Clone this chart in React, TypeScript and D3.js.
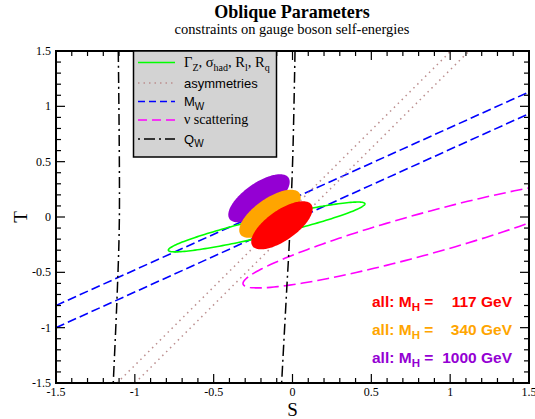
import React from "react";
import * as d3 from "d3";

const W = 535;
const H = 419;
const PLOT = { left: 56, right: 529, top: 51, bottom: 383 };

// axis ticks
const majorTicks = [-1.5, -1, -0.5, 0, 0.5, 1, 1.5];
const tickLabels = ["-1.5", "-1", "-0.5", "0", "0.5", "1", "1.5"];
const minorTicks = [-1.4, -1.3, -1.2, -1.1, -0.9, -0.8, -0.7, -0.6, -0.4, -0.3, -0.2, -0.1, 0.1, 0.2, 0.3, 0.4, 0.6, 0.7, 0.8, 0.9, 1.1, 1.2, 1.3, 1.4];

// M_W bands (blue dashed)
const mwS = [-1.5, 1.5];
const mwUpperT = [-0.8, 1.13];
const mwLowerT = [-1.0, 0.934];

// asymmetries (dotted)
const asymT = [-1.5, 1.5];
const asymLeftS = [-1.113, 1.005];
const asymRightS = [-0.999, 1.12];

// Q_W (dash-dot)
const qwLeftS = [-1.105, -1.098, -1.111, -1.137];
const qwLeftT = [1.5, 0, -0.66, -1.5];
const qwRightS = [0.016, 0.001, -0.02, -0.037, -0.069];
const qwRightT = [1.5, 0.512, -0.226, -0.663, -1.5];

// Gamma_Z etc. (green ellipse): center, conjugate half-axes
const zCenter = [-0.164, -0.09];
const zU = [0.6233, 0.2108];
const zV = [-0.0132, 0.0791];

// nu scattering (magenta dashed ellipse)
const nuCenter = [0.834, -0.1545];
const nuU = [1.148, 0.446];
const nuV = [0, 0.194];

// combined fits for three Higgs masses
const fitLabels = ["1000", "340", "117"];
const fitColors = ["#9400d3", "#ffa500", "#ff0000"];
const fitCenterS = [-0.2125, -0.143, -0.067];
const fitCenterT = [0.169, 0.029, -0.075];
const fitU = [0.187, 0.187];
const fitV = [-0.0546, 0.111];

const x = d3.scaleLinear().domain([-1.5, 1.5]).range([PLOT.left, PLOT.right]);
const y = d3.scaleLinear().domain([-1.5, 1.5]).range([PLOT.bottom, PLOT.top]);

const line = d3
  .line<[number, number]>()
  .x((d) => x(d[0]))
  .y((d) => y(d[1]));
const smooth = d3
  .line<[number, number]>()
  .x((d) => x(d[0]))
  .y((d) => y(d[1]))
  .curve(d3.curveCatmullRom);
const closed = d3
  .line<[number, number]>()
  .x((d) => x(d[0]))
  .y((d) => y(d[1]))
  .curve(d3.curveLinearClosed);

function ellipse(c: number[], u: number[], v: number[]) {
  const pts: [number, number][] = d3.range(0, 360, 2).map((deg) => {
    const t = (deg * Math.PI) / 180;
    return [c[0] + u[0] * Math.cos(t) + v[0] * Math.sin(t), c[1] + u[1] * Math.cos(t) + v[1] * Math.sin(t)];
  });
  return closed(pts) as string;
}

const zip = (a: number[], b: number[]) => a.map((v, i) => [v, b[i]] as [number, number]);

const serif = "'Liberation Serif', 'Times New Roman', serif";
const sans = "'Liberation Sans', Arial, sans-serif";

export default function App() {
  const tickLines: React.ReactNode[] = [];
  const all = [...majorTicks.map((v) => ({ v, major: true })), ...minorTicks.map((v) => ({ v, major: false }))];
  all.forEach(({ v, major }, i) => {
    const len = major ? 9 : 5;
    const xv = x(v);
    const yv = y(v);
    tickLines.push(<line key={"b" + i} x1={xv} x2={xv} y1={PLOT.bottom} y2={PLOT.bottom - len} />);
    tickLines.push(<line key={"t" + i} x1={xv} x2={xv} y1={PLOT.top} y2={PLOT.top + len} />);
    tickLines.push(<line key={"l" + i} x1={PLOT.left} x2={PLOT.left + len} y1={yv} y2={yv} />);
    tickLines.push(<line key={"r" + i} x1={PLOT.right} x2={PLOT.right - len} y1={yv} y2={yv} />);
  });

  const legX1 = 138;
  const legX2 = 175;
  const legText = 184;
  const legRows = [62.5, 83, 101.5, 120, 139];

  return (
    <svg
      width={W}
      height={H}
      style={{ position: "absolute", left: 0, top: 0, background: "#fff" }}
      xmlns="http://www.w3.org/2000/svg"
    >
      <defs>
        <clipPath id="plotClip">
          <rect x={PLOT.left} y={PLOT.top} width={PLOT.right - PLOT.left} height={PLOT.bottom - PLOT.top} />
        </clipPath>
      </defs>
      <rect x={0} y={0} width={W} height={H} fill="#fff" />

      {/* titles */}
      <text x={292} y={18} textAnchor="middle" fontFamily={serif} fontWeight="bold" fontSize={18}>
        Oblique Parameters
      </text>
      <text x={292} y={34} textAnchor="middle" fontFamily={serif} fontSize={14.5}>
        constraints on gauge boson self-energies
      </text>

      <g clipPath="url(#plotClip)" fill="none">
        {/* M_W */}
        <path d={line(zip(mwS, mwUpperT)) as string} stroke="#0000ff" strokeWidth={1.6} strokeDasharray="9,4" />
        <path d={line(zip(mwS, mwLowerT)) as string} stroke="#0000ff" strokeWidth={1.6} strokeDasharray="9,4" />
        {/* asymmetries */}
        <path d={line(zip(asymLeftS, asymT)) as string} stroke="#bc8f8f" strokeWidth={1.5} strokeDasharray="1.5,4" />
        <path d={line(zip(asymRightS, asymT)) as string} stroke="#bc8f8f" strokeWidth={1.5} strokeDasharray="1.5,4" />
        {/* nu scattering */}
        <path d={ellipse(nuCenter, nuU, nuV)} stroke="#ff00ff" strokeWidth={1.6} strokeDasharray="12,5" />
        {/* Q_W */}
        <path d={smooth(zip(qwLeftS, qwLeftT)) as string} stroke="#000" strokeWidth={1.5} strokeDasharray="11,4,2,4" />
        <path d={smooth(zip(qwRightS, qwRightT)) as string} stroke="#000" strokeWidth={1.5} strokeDasharray="11,4,2,4" />
        {/* Z pole */}
        <path d={ellipse(zCenter, zU, zV)} stroke="#00ff00" strokeWidth={1.6} />
        {/* fits */}
        {fitLabels.map((lab, i) => (
          <path
            key={lab}
            d={ellipse([fitCenterS[i], fitCenterT[i]], fitU, fitV)}
            fill={fitColors[i]}
            stroke="none"
          />
        ))}
      </g>

      {/* frame and ticks */}
      <g stroke="#000" strokeWidth={1.2}>{tickLines}</g>
      <rect
        x={PLOT.left}
        y={PLOT.top}
        width={PLOT.right - PLOT.left}
        height={PLOT.bottom - PLOT.top}
        fill="none"
        stroke="#000"
        strokeWidth={2}
      />

      {/* tick labels */}
      {majorTicks.map((v, i) => (
        <text key={"xl" + i} x={x(v)} y={396} textAnchor="middle" fontFamily={serif} fontSize={12}>
          {tickLabels[i]}
        </text>
      ))}
      {majorTicks.map((v, i) => (
        <text key={"yl" + i} x={51} y={y(v) + 4} textAnchor="end" fontFamily={serif} fontSize={12}>
          {tickLabels[i]}
        </text>
      ))}
      <text x={292.5} y={415.5} textAnchor="middle" fontFamily={serif} fontSize={19}>
        S
      </text>
      <text
        x={0}
        y={0}
        transform={`translate(27,${y(0)}) rotate(-90)`}
        textAnchor="middle"
        fontFamily={serif}
        fontSize={19}
      >
        T
      </text>

      {/* legend */}
      <rect x={133.5} y={PLOT.top} width={143} height={106} fill="#d3d3d3" stroke="#000" strokeWidth={1.5} />
      <g fill="none">
        <line x1={legX1} x2={legX2} y1={legRows[0]} y2={legRows[0]} stroke="#00ff00" strokeWidth={1.6} />
        <line x1={legX1} x2={legX2} y1={legRows[1]} y2={legRows[1]} stroke="#bc8f8f" strokeWidth={1.5} strokeDasharray="1.5,4" />
        <line x1={legX1} x2={legX2} y1={legRows[2]} y2={legRows[2]} stroke="#0000ff" strokeWidth={1.6} strokeDasharray="7,4" />
        <line x1={legX1} x2={legX2} y1={legRows[3]} y2={legRows[3]} stroke="#ff00ff" strokeWidth={1.6} strokeDasharray="9,5" />
        <line x1={legX1} x2={legX2} y1={legRows[4]} y2={legRows[4]} stroke="#000" strokeWidth={1.5} strokeDasharray="2,4,11,4" />
      </g>
      <text x={legText} y={legRows[0] + 4.5} fontFamily={serif} fontSize={14.5}>
        Γ<tspan dy={3.5} fontSize={10}>Z</tspan>
        <tspan dy={-3.5}>, σ</tspan>
        <tspan dy={3.5} fontSize={10}>had</tspan>
        <tspan dy={-3.5}>, R</tspan>
        <tspan dy={3.5} fontSize={10}>l</tspan>
        <tspan dy={-3.5}>, R</tspan>
        <tspan dy={3.5} fontSize={10}>q</tspan>
      </text>
      <text x={legText} y={legRows[1] + 4.5} fontFamily={sans} fontSize={13}>
        asymmetries
      </text>
      <text x={legText} y={legRows[2] + 4.5} fontFamily={sans} fontSize={13}>
        M<tspan dy={3.5} fontSize={10}>W</tspan>
      </text>
      <text x={legText} y={legRows[3] + 4} fontFamily={serif} fontSize={14}>
        ν scattering
      </text>
      <text x={legText} y={legRows[4] + 4.5} fontFamily={sans} fontSize={13}>
        Q<tspan dy={3.5} fontSize={10}>W</tspan>
      </text>

      {/* Higgs mass annotations */}
      {[2, 1, 0].map((i, row) => (
        <g key={"ann" + i} fill={fitColors[i]} fontFamily={sans} fontWeight="bold" fontSize={15.5}>
          <text x={372} y={307 + row * 28}>
            all: M<tspan dy={4} fontSize={11.5}>H</tspan>
            <tspan dy={-4}> =</tspan>
          </text>
          <text x={512} y={307 + row * 28} textAnchor="end">
            {fitLabels[i]} GeV
          </text>
        </g>
      ))}
    </svg>
  );
}
